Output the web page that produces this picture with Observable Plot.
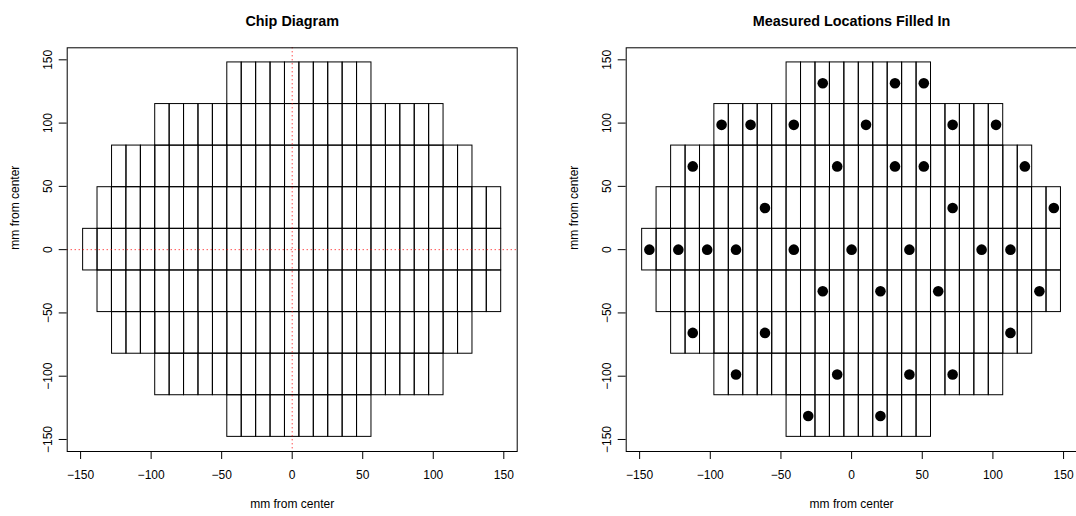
<!DOCTYPE html>
<html><head><meta charset="utf-8">
<script src="https://cdn.jsdelivr.net/npm/d3@7"></script>
<script src="https://cdn.jsdelivr.net/npm/@observablehq/plot@0.6"></script>
<style>
html,body{margin:0;padding:0;background:#fff;}
#wrap{position:relative;width:1076px;height:516px;overflow:hidden;background:#fff;}
.panel{position:absolute;top:0;}
.panel svg{max-width:none !important;}
</style></head><body>
<div id="wrap"><div id="p1" class="panel" style="left:0;width:538px"></div><div id="p2" class="panel" style="left:538px;width:546px"></div></div>
<script>
// ---- data ----
const titles = ["Chip Diagram", "Measured Locations Filled In"];
const axisLabel = "mm from center";
const tickValues = [-150, -100, -50, 0, 50, 100, 150];
const chipWidth = 10.22;    // mm
const chipHeight = 32.88;   // mm
const rowCenterY = [131.5, 98.6, 65.8, 32.9, 0, -32.9, -65.8, -98.6, -131.5];
const rowFirstChipX = [-40.9, -92.0, -122.6, -132.9, -143.1, -132.9, -122.6, -92.0, -40.9];
const rowChipCount = [10, 20, 25, 28, 29, 28, 25, 20, 10];
const measuredX = [
  -20.4, 30.7, 51.1,
  -92.0, -71.5, -40.9, 10.2, 71.5, 102.2,
  -112.4, -10.2, 30.7, 51.1, 122.6,
  -61.3, 71.5, 143.1,
  -143.1, -122.6, -102.2, -81.8, -40.9, 0, 40.9, 92.0, 112.4,
  -20.4, 20.4, 61.3, 132.9,
  -112.4, -61.3, 112.4,
  -81.8, -10.2, 40.9, 71.5,
  -30.7, 20.4
];
const measuredY = [
  131.5, 131.5, 131.5,
  98.6, 98.6, 98.6, 98.6, 98.6, 98.6,
  65.8, 65.8, 65.8, 65.8, 65.8,
  32.9, 32.9, 32.9,
  0, 0, 0, 0, 0, 0, 0, 0, 0,
  -32.9, -32.9, -32.9, -32.9,
  -65.8, -65.8, -65.8,
  -98.6, -98.6, -98.6, -98.6,
  -131.5, -131.5
];

// ---- tables built from the arrays ----
const chips = [];
rowCenterY.forEach((y, i) => {
  for (let j = 0; j < rowChipCount[i]; j++) {
    const x = rowFirstChipX[i] + j * chipWidth;
    chips.push({x1: x - chipWidth / 2, x2: x + chipWidth / 2, y1: y - chipHeight / 2, y2: y + chipHeight / 2});
  }
});
const measured = measuredX.map((x, i) => ({x, y: measuredY[i]}));

const font = "'Liberation Sans', Arial, Helvetica, sans-serif";

function panel(el, title, width, marginLeft, marginRight, extra) {
  const chart = Plot.plot({
    width, height: 516,
    marginLeft, marginRight, marginTop: 47.3, marginBottom: 65,
    x: {domain: [-159.5, 159.5], label: null},
    y: {domain: [-159.5, 159.5], label: null},
    style: {fontFamily: font, fontSize: "12px", color: "black", background: "white", overflow: "visible", maxWidth: "none"},
    marks: [
      Plot.rect(chips, {x1: "x1", x2: "x2", y1: "y1", y2: "y2", fill: "none", stroke: "black", strokeWidth: 1, inset: 0}),
      ...extra,
      Plot.frame({stroke: "black"}),
      Plot.axisX(tickValues, {tickSize: 8, tickPadding: 11, label: null, stroke: "black"}),
      Plot.axisY(tickValues, {tickSize: 8, tickPadding: 7, tickRotate: -90, label: null, stroke: "black"}),
      Plot.text([axisLabel], {text: d => d, frameAnchor: "bottom", dy: 56, fill: "black"}),
      Plot.text([axisLabel], {text: d => d, frameAnchor: "left", rotate: -90, dx: -52, fill: "black"}),
      Plot.text([title], {text: d => d, frameAnchor: "top", dy: -32, fontWeight: "bold", fontSize: 14.4, fill: "black"})
    ]
  });
  document.getElementById(el).appendChild(chart);
}

panel("p1", titles[0], 538, 66.7, 21.3, [
  Plot.ruleX([0], {stroke: "red", strokeDasharray: "1,3"}),
  Plot.ruleY([0], {stroke: "red", strokeDasharray: "1,3"})
]);
panel("p2", titles[1], 546, 87.7, 7.5, [
  Plot.dot(measured, {x: "x", y: "y", r: 5.3, fill: "black", stroke: "none"})
]);
</script>
</body></html>
